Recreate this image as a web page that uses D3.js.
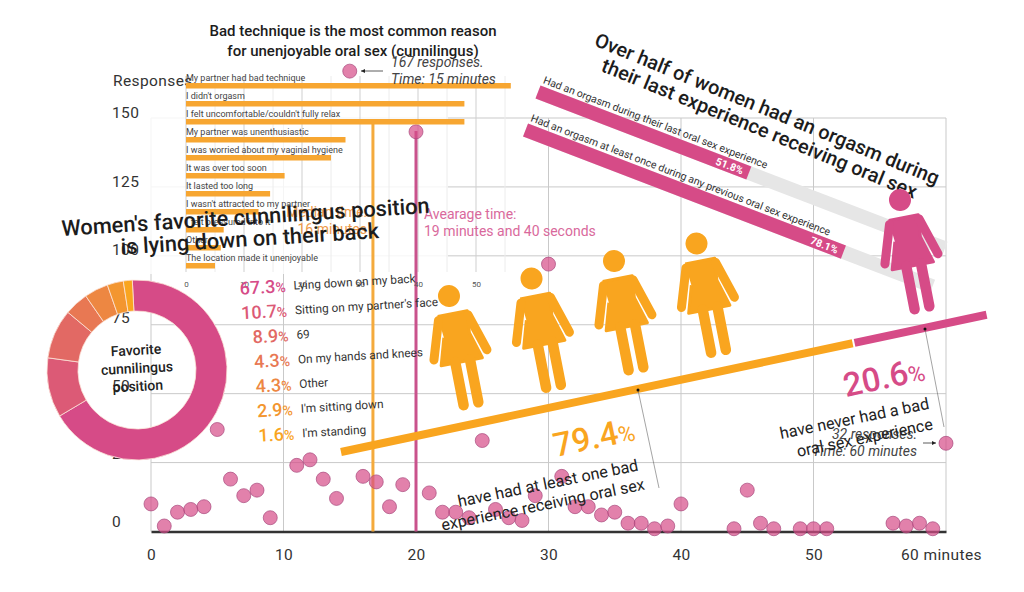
<!DOCTYPE html>
<html lang="en">
<head>
<meta charset="utf-8">
<title>Oral sex survey</title>
<script src="https://cdn.jsdelivr.net/npm/d3@7"></script>
<style>
  html, body { margin: 0; background: #fff; }
  text { font-family: Roboto, sans-serif; fill: #222; }
  .axisText text { font-size: 15.5px; fill: #333; letter-spacing: .4px; }
  .heading { font-size: 20px; font-weight: 500; fill: #1c1c1c; }
  .note { font-size: 14px; font-style: italic; fill: #444; }
</style>
</head>
<body>
<div id="chart"></div>
<script>
// scatter: minutes vs number of responses
const minutes = [0,1,2,3,4,5,6,7,8,9,11,12,13,14,15,16,17,18,19,20,21,22,23,24,25,26,27,28,29,30,31,32,33,34,35,36,37,38,39,40,44,45,46,47,49,50,51,56,57,58,59,60];
const responses = [10,2,7,8,9,37,19,13,15,5,24,26,19,12,167,20,18,9,17,145,14,7,7,5,33,8,5,4,13,97,20,9,9,6,7,3,3,1,2,10,1,15,3,1,1,1,1,3,2,3,1,32];
const xTicks = [0,10,20,30,40,50,60];
const yTicks = [0,25,50,75,100,125,150];
const medianTime = 16.75;
const averageTime = 20;

// reasons bar chart
const reasons = ["My partner had bad technique","I didn't orgasm","I felt uncomfortable/couldn't fully relax","My partner was unenthusiastic","I was worried about my vaginal hygiene","It was over too soon","It lasted too long","I wasn't attracted to my partner","I felt pressured into it","Other","The location made it unenjoyable"];
const reasonValues = [56,48,48,27.5,25,17,14.5,12.5,6.5,6,5];
const reasonTicks = [0,10,20,30,40,50];

// donut
const positions = ["Lying down on my back","Sitting on my partner's face","69","On my hands and knees","Other","I'm sitting down","I'm standing"];
const positionShares = [67.3,10.7,8.9,4.3,4.3,2.9,1.6];

// orgasm bars
const orgasmLabels = ["Had an orgasm during their last oral sex experience","Had an orgasm at least once during any previous oral sex experience"];
const orgasmShares = [51.8,78.1];

// bad experience split
const badExperience = [79.4,20.6];

const pink = "#d64b87", orange = "#f9a51f";

const svg = d3.select("#chart").append("svg").attr("width", 1024).attr("height", 592).style("display", "block");

const x = d3.scaleLinear().domain([0, 60]).range([151, 946]);
const y = d3.scaleLinear().domain([0, 150]).range([531.5, 118]);
const yLabel = d3.scaleLinear().domain([0, 150]).range([522, 113]);

// grid
svg.append("g").selectAll("line").data(yTicks.slice(1)).join("line")
    .attr("x1", x(0)).attr("x2", x(60)).attr("y1", d => y(d)).attr("y2", d => y(d))
    .attr("stroke", "#c9c9c9").attr("stroke-width", 1);
svg.append("g").selectAll("line").data(xTicks).join("line")
    .attr("x1", d => x(d)).attr("x2", d => x(d)).attr("y1", y(150)).attr("y2", y(0))
    .attr("stroke", "#c9c9c9").attr("stroke-width", 1);

// whitish panel of the reasons chart sits on the scatter grid
svg.append("rect").attr("x", 140).attr("y", 74).attr("width", 308).attr("height", 200).attr("fill", "#fff").attr("fill-opacity", .82);

const xReason = d3.scaleLinear().domain([0, 50]).range([186, 476]);
const yReason = d3.scaleBand().domain(reasons).range([77, 275]);

svg.append("g").selectAll("line").data(d3.range(0, 60, 5)).join("line")
    .attr("x1", d => xReason(d)).attr("x2", d => xReason(d)).attr("y1", 76).attr("y2", 272)
    .attr("stroke", d => d % 10 === 0 ? "#cfcfcf" : "#ececec");

// y labels are left aligned, x labels under the axis
const yAxis = svg.append("g").attr("class", "axisText").attr("transform", "translate(112,0)")
    .call(d3.axisRight(yLabel).tickValues(yTicks).tickSize(0));
yAxis.select(".domain").remove();
yAxis.selectAll("text").attr("x", 0);

const xAxis = svg.append("g").attr("class", "axisText").attr("transform", "translate(0,531.5)")
    .call(d3.axisBottom(x).tickValues(xTicks).tickSize(0).tickFormat(d => d === 60 ? "60 minutes" : d));
xAxis.select(".domain").attr("stroke", "#333").attr("stroke-width", 2.5);
xAxis.selectAll("text").attr("y", 17);
xAxis.selectAll(".tick").filter(d => d === 60).select("text").attr("dx", -5);

svg.append("text").attr("class", "axisLabel").attr("x", 113).attr("y", 86)
    .style("font-size", "15.5px").style("fill", "#333").style("letter-spacing", ".4px").text("Responses");

// median and average lines
svg.append("line").attr("x1", x(medianTime)).attr("x2", x(medianTime)).attr("y1", 122).attr("y2", y(0))
    .attr("stroke", "#f4aa3c").attr("stroke-width", 3);
svg.append("line").attr("x1", x(averageTime)).attr("x2", x(averageTime)).attr("y1", 131).attr("y2", y(0))
    .attr("stroke", "#c9528c").attr("stroke-width", 3);

svg.append("g").selectAll("circle").data(minutes).join("circle")
    .attr("cx", d => x(d))
    .attr("cy", (d, i) => y(responses[i]))
    .attr("r", 7)
    .attr("fill", pink).attr("fill-opacity", .7)
    .attr("stroke", "#a8497c").attr("stroke-width", .7);

function arrow(x1, x2, yy) {
    const dir = x2 > x1 ? 1 : -1;
    svg.append("line").attr("x1", x1).attr("x2", x2).attr("y1", yy).attr("y2", yy).attr("stroke", "#333").attr("stroke-width", .8);
    svg.append("path").attr("d", d3.line()([[x2, yy], [x2 - dir * 4, yy - 2], [x2 - dir * 4, yy + 2]])).attr("fill", "#222");
}
arrow(383, 361, 71);
arrow(923, 936, 443);

function lines(px, py, angle, rows, cls, style) {
    const g = svg.append("g").attr("transform", `translate(${px},${py}) rotate(${angle})`);
    rows.forEach((r, i) => {
        const t = g.append("text").attr("class", cls || null).attr("x", r[0]).attr("y", r[1]).text(r[2]);
        Object.entries(style || {}).forEach(([k, v]) => t.style(k, v));
    });
    return g;
}

// reasons chart
svg.append("g").selectAll("rect").data(reasons).join("rect")
    .attr("x", xReason(0))
    .attr("y", d => yReason(d) + 6)
    .attr("width", (d, i) => xReason(reasonValues[i]) - xReason(0))
    .attr("height", 5.5)
    .attr("fill", "#f7a631");
svg.append("g").selectAll("text").data(reasons).join("text")
    .attr("x", xReason(0))
    .attr("y", d => yReason(d) + 3.5)
    .style("font-size", "9px").style("fill", "#444")
    .text(d => d);

const reasonAxis = svg.append("g").attr("transform", "translate(0,278)")
    .call(d3.axisBottom(xReason).tickValues(reasonTicks).tickSize(0));
reasonAxis.select(".domain").remove();
reasonAxis.selectAll("text").style("font-size", "8px").style("font-family", "Roboto").style("fill", "#555");

lines(353, 31, 0, [[0, 5, "Bad technique is the most common reason"], [0, 25, "for unenjoyable oral sex (cunnilingus)"]], "heading",
    { "font-size": "15px", "text-anchor": "middle" });

lines(391, 67, 0, [[0, 0, "167 responses."], [0, 17, "Time: 15 minutes"]], "note");
lines(917, 439, 0, [[0, 0, "32 responses."], [0, 17, "Time: 60 minutes"]], "note", { "text-anchor": "end" });

lines(367, 217, 0, [[0, 0, "Median time:"], [0, 17, "16 minutes"]], null, { "font-size": "14px", "fill": "#ee9a4a", "text-anchor": "end" });
lines(424, 219, 0, [[0, 0, "Avearage time:"], [0, 17, "19 minutes and 40 seconds"]], null, { "font-size": "14px", "fill": "#d9699c" });

// donut
const shareColor = d3.scaleLinear().domain([0, positions.length - 1]).range([pink, orange]);
const pie = d3.pie().sort(null).startAngle(-3 * Math.PI / 180).endAngle(357 * Math.PI / 180);
const arc = d3.arc().innerRadius(59).outerRadius(90);
svg.append("g").attr("transform", "translate(137,370)")
    .selectAll("path").data(pie(positionShares)).join("path")
    .attr("d", arc)
    .attr("fill", (d, i) => shareColor(i))
    .attr("stroke", "#fbe3d8").attr("stroke-width", .8);

lines(137, 370, -3, [[0, -15, "Favorite"], [0, 3, "cunnilingus"], [0, 21, "position"]], null,
    { "font-size": "14px", "font-weight": "500", "text-anchor": "middle" });

// legend
const yLegend = d3.scalePoint().domain(positions).range([0, 148]);
const legend = svg.append("g").attr("transform", "translate(286,292) rotate(-3.3)");
const shareText = legend.selectAll("text.share").data(positions).join("text")
    .attr("class", "share")
    .attr("x", 0)
    .attr("y", d => yLegend(d))
    .attr("text-anchor", "end")
    .style("font-size", "18px").style("font-weight", "500")
    .style("fill", (d, i) => shareColor(i));
shareText.append("tspan").text((d, i) => positionShares[i]);
shareText.append("tspan").style("font-size", "14px").text("%");
legend.selectAll("text.name").data(positions).join("text")
    .attr("class", "name")
    .attr("x", 8)
    .attr("y", d => yLegend(d) - 2)
    .style("font-size", "11.8px").style("fill", "#333")
    .text(d => d);

lines(62, 236, -3.6, [[0, 0, "Women's favorite cunnilingus position"], [58, 22, "is lying down on their back"]], "heading", { "font-size": "21.8px" });

// orgasm bars
const xOrgasm = d3.scaleLinear().domain([0, 100]).range([0, 436]);
const orgasm = svg.append("g").attr("transform", "translate(538,92) rotate(21)");
orgasmLabels.forEach((label, i) => {
    const row = orgasm.append("g").attr("transform", `translate(${i * 2},${i * 40})`);
    row.append("rect").attr("y", -7).attr("height", 14).attr("width", xOrgasm(100)).attr("fill", "#e6e6e6");
    row.append("rect").attr("y", -7).attr("height", 14).attr("width", xOrgasm(orgasmShares[i])).attr("fill", pink);
    row.append("text").attr("x", 1).attr("y", -10).style("font-size", "10.5px").style("fill", "#333").text(label);
    row.append("text").attr("x", xOrgasm(orgasmShares[i]) - 6).attr("y", 4).attr("text-anchor", "end")
        .style("font-size", "10.5px").style("font-weight", "700").style("fill", "#fff").text(orgasmShares[i] + "%");
});

lines(597, 36, 22.2, [[0, 10, "Over half of women had an orgasm during"], [16, 31, "their last experience receiving oral sex"]], "heading", { "font-size": "19.8px" });

// split line
const xSplit = d3.scaleLinear().domain([0, 100]).range([0, 660]);
const split = svg.append("g").attr("transform", "translate(341,452) rotate(-12)");
split.selectAll("rect").data(badExperience).join("rect")
    .attr("x", (d, i) => i === 0 ? 0 : xSplit(badExperience[0]) + 1)
    .attr("y", -4)
    .attr("width", d => xSplit(d) - 1)
    .attr("height", 8)
    .attr("fill", (d, i) => i === 0 ? orange : pink);

// people standing on the line
function person(px, py, color) {
    const g = svg.append("g").attr("transform", `translate(${px},${py}) rotate(-11)`).attr("fill", color).attr("stroke", color);
    g.append("circle").attr("r", 11).attr("stroke", "none");
    g.append("path").attr("d", d3.line()([[-15, 18], [15, 18], [13, 40], [21, 67], [-21, 67], [-13, 40]]))
        .attr("stroke-width", 3).attr("stroke-linejoin", "round");
    g.selectAll("line.arm").data([-1, 1]).join("line").attr("class", "arm")
        .attr("x1", d => d * 15).attr("y1", 22).attr("x2", d => d * 27).attr("y2", 60)
        .attr("stroke-width", 9).attr("stroke-linecap", "round");
    g.selectAll("line.leg").data([-1, 1]).join("line").attr("class", "leg")
        .attr("x1", d => d * 7.5 + 1).attr("y1", 66).attr("x2", d => d * 7.5 + 1).attr("y2", 110)
        .attr("stroke-width", 10.5).attr("stroke-linecap", "round");
}
const xPerson = d3.scaleLinear().domain([0, 3]).range([449, 696.5]);
const yPerson = d3.scaleLinear().domain([0, 3]).range([296, 243.5]);
[0, 1, 2, 3].forEach(i => person(xPerson(i), yPerson(i), orange));
person(900, 200, pink);

// callouts
function callout(x1, y1, x2, y2) {
    svg.append("line").attr("x1", x1).attr("y1", y1).attr("x2", x2).attr("y2", y2).attr("stroke", "#666").attr("stroke-width", .6);
    svg.append("circle").attr("cx", x1).attr("cy", y1).attr("r", 1.5).attr("fill", "#111");
}
callout(638, 390, 659, 488);
callout(925, 329, 944, 427);

function bigShare(px, py, value, color) {
    const t = svg.append("text").attr("transform", `translate(${px},${py}) rotate(-12)`).style("fill", color).style("font-weight", "500").style("font-size", "33px");
    t.append("tspan").text(value);
    t.append("tspan").style("font-size", "23px").style("font-weight", "400").text("%");
}
bigShare(556, 457, badExperience[0], orange);
bigShare(846, 397, badExperience[1], pink);

lines(459, 507, -11.5, [[0, 0, "have had at least one bad"], [-21, 20, "experience receiving oral sex"]], null, { "font-size": "16.2px", "fill": "#222" });
lines(781, 439, -11.5, [[0, 0, "have never had a bad"], [13, 21, "oral sex experience"]], null, { "font-size": "16.2px", "fill": "#222" });
</script>
</body>
</html>
